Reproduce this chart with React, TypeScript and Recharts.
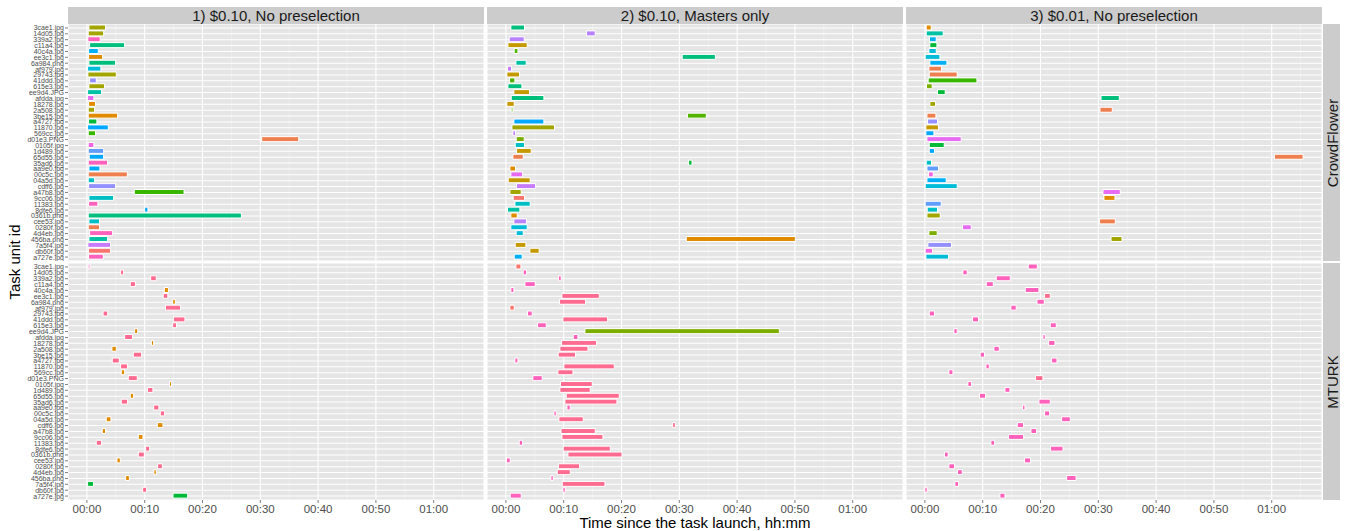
import React from 'react';
import { BarChart, Bar, XAxis, YAxis, CartesianGrid, Cell } from 'recharts';

// task unit ids, top to bottom (same order in every panel)
const taskIds = [
  '3cae1.jpg', '14d05.jpg', '339a2.jpg', 'c11a4.jpg', '40c4a.jpg', 'ee3c1.jpg', '6a984.png', 'af979.jpg',
  '29743.jpg', '41ddd.jpg', '615e3.jpg', 'ee9d4.JPG', 'afdda.jpg', '18278.jpg', '2a508.jpg', '3be15.jpg',
  'a4727.jpg', '11870.jpg', '569cc.jpg', 'd01e3.PNG', '0105f.jpg', '1d489.jpg', '65d55.jpg', '35ad6.jpg',
  'aa9e0.jpg', '00c5c.jpg', '04a5d.jpg', 'cdff6.jpg', 'a47b8.jpg', '9cc06.jpg', '11383.jpg', '8dfe6.jpg',
  '0361b.png', 'cee53.jpg', '0280f.jpg', '4d4eb.jpg', '456ba.png', '7a5f4.jpg', 'db60f.jpg', 'a727e.jpg',
];

const setups = ['1) $0.10, No preselection', '2) $0.10, Masters only', '3) $0.01, No preselection'];
const platforms = ['CrowdFlower', 'MTURK'];
const timeTicks = [0, 10, 20, 30, 40, 50, 60];
const minorTicks = [5, 15, 25, 35, 45, 55, 65];

// [start min, end min, worker group]
type Span = [number, number, string];

const cfNoPre10: Span[] = [
  [0.35, 3.23, 'olive'], [0.23, 2.9, 'olive'], [0.17, 2.3, 'pink'], [0.47, 6.53, 'emerald'],
  [0.29, 1.97, 'sky'], [0.29, 2.72, 'orange'], [0.35, 4.97, 'emerald'], [0.12, 2.42, 'cyan'],
  [0.17, 5.09, 'olive'], [0.47, 1.63, 'peri'], [0.35, 3.06, 'olive'], [0.12, 2.54, 'jade'],
  [0.12, 1.21, 'magenta'], [0.29, 1.5, 'orange'], [0.23, 1.33, 'olive'], [0.23, 5.31, 'orange'],
  [0.29, 1.73, 'green'], [0.12, 3.7, 'azure'], [0.23, 1.5, 'leaf'], [30.24, 36.65, 'coral'],
  [0.23, 1.21, 'orchid'], [0.23, 2.9, 'blue'], [0.4, 2.9, 'azure'], [0.23, 3.58, 'pink'],
  [0.35, 2.25, 'azure'], [0.23, 7.0, 'coral'], [0.23, 1.33, 'teal'], [0.29, 4.97, 'peri'],
  [8.2, 16.8, 'leaf'], [0.35, 4.62, 'teal'], [0.29, 1.9, 'pink'], [9.99, 10.56, 'azure'],
  [0.23, 26.73, 'emerald'], [0.35, 2.19, 'teal'], [0.23, 2.19, 'coral'], [0.47, 4.45, 'pink'],
  [0.35, 3.58, 'jade'], [0.17, 4.1, 'purple'], [0.29, 4.1, 'salmon'], [0.29, 2.84, 'pink'],
];

const mtNoPre10: Span[] = [
  [0.23, 0.52, 'pink'], [5.83, 6.35, 'rose'], [11.03, 12.0, 'rose'], [7.5, 8.4, 'rose'],
  [13.4, 14.1, 'orange'], [13.2, 14.0, 'rose'], [14.84, 15.3, 'orange'], [13.6, 16.2, 'rose'],
  [2.8, 3.6, 'rose'], [15.0, 16.96, 'rose'], [14.84, 15.5, 'rose'], [8.26, 8.78, 'orange'],
  [6.53, 7.9, 'rose'], [11.15, 11.55, 'orange'], [4.33, 5.09, 'orange'], [8.03, 9.47, 'rose'],
  [4.39, 5.6, 'rose'], [5.83, 7.04, 'rose'], [5.95, 6.53, 'orange'], [7.16, 8.72, 'rose'],
  [14.3, 14.66, 'orange'], [10.5, 11.42, 'rose'], [7.5, 8.08, 'orange'], [5.95, 7.04, 'rose'],
  [11.55, 12.46, 'rose'], [12.7, 13.45, 'rose'], [3.35, 4.16, 'orange'], [12.18, 13.16, 'orange'],
  [2.66, 3.23, 'orange'], [8.9, 9.7, 'orange'], [1.62, 2.54, 'rose'], [10.16, 10.85, 'rose'],
  [8.9, 9.93, 'rose'], [5.2, 5.78, 'orange'], [12.24, 13.05, 'rose'], [11.6, 12.0, 'orange'],
  [6.7, 7.34, 'orange'], [0.12, 1.16, 'green'], [9.64, 10.33, 'rose'], [14.9, 17.43, 'green'],
];

const cfMasters10: Span[] = [
  [0.86, 3.22, 'emerald'], [13.95, 15.45, 'violet'], [0.57, 3.17, 'violet'], [0.35, 3.69, 'gold'],
  [1.44, 2.08, 'grass'], [30.5, 36.24, 'emerald'], [1.73, 3.51, 'jade'], [0.28, 0.97, 'purple'],
  [0.17, 2.35, 'gold'], [0.63, 1.56, 'grass'], [0.35, 2.77, 'emerald'], [1.38, 4.08, 'gold'],
  [0.92, 6.57, 'emerald'], [0.17, 1.44, 'gold'], [0.92, 1.21, 'grass'], [31.4, 34.67, 'grass'],
  [1.38, 6.57, 'azure'], [1.04, 8.41, 'olive'], [1.21, 1.66, 'purple'], [1.78, 3.17, 'lime'],
  [1.61, 3.22, 'teal'], [1.84, 4.38, 'gold'], [1.21, 3.0, 'coral'], [31.6, 32.2, 'green'],
  [0.69, 1.66, 'orange'], [0.86, 2.88, 'magenta'], [0.4, 4.2, 'gold'], [1.84, 5.13, 'purple'],
  [0.69, 2.65, 'olive'], [1.26, 3.22, 'salmon'], [1.56, 4.2, 'teal'], [0.28, 2.42, 'jade'],
  [0.86, 1.96, 'orange'], [1.38, 3.56, 'violet'], [0.86, 3.69, 'cyan'], [1.78, 3.0, 'cyan'],
  [31.2, 50.07, 'orange'], [1.61, 3.46, 'gold'], [4.15, 5.76, 'gold'], [1.44, 2.82, 'sky'],
];

const mtMasters10: Span[] = [
  [1.73, 2.6, 'salmon'], [2.99, 3.57, 'pink'], [9.11, 9.57, 'pink'], [3.29, 5.07, 'pink'],
  [0.86, 1.38, 'pink'], [9.69, 16.15, 'rose'], [9.28, 13.78, 'rose'], [0.69, 1.44, 'salmon'],
  [3.74, 4.55, 'pink'], [9.87, 17.6, 'rose'], [5.47, 6.98, 'pink'], [13.67, 47.31, 'lime'],
  [11.65, 12.46, 'pink'], [9.63, 15.69, 'rose'], [9.34, 14.2, 'rose'], [9.05, 12.05, 'rose'],
  [1.56, 2.08, 'pink'], [10.04, 18.75, 'rose'], [9.0, 11.6, 'rose'], [4.67, 6.28, 'pink'],
  [9.45, 14.94, 'rose'], [9.34, 14.59, 'rose'], [10.44, 19.61, 'rose'], [10.21, 19.21, 'rose'],
  [10.56, 11.13, 'pink'], [8.31, 8.71, 'pink'], [9.17, 13.38, 'rose'], [28.84, 29.31, 'rose'],
  [9.52, 15.46, 'rose'], [9.69, 16.79, 'rose'], [2.3, 2.88, 'pink'], [9.92, 18.06, 'rose'],
  [10.73, 20.08, 'rose'], [0.11, 0.74, 'pink'], [9.11, 12.74, 'rose'], [8.88, 11.13, 'rose'],
  [7.79, 8.19, 'pink'], [9.75, 17.14, 'rose'], [9.87, 10.27, 'pink'], [0.75, 2.65, 'pink'],
];

const cfNoPre01: Span[] = [
  [0.23, 1.09, 'orange'], [0.23, 3.17, 'jade'], [0.8, 1.96, 'sky'], [0.86, 2.08, 'green'],
  [0.69, 1.96, 'cyan'], [0.05, 2.6, 'cyan'], [0.86, 3.81, 'sky'], [0.69, 2.88, 'coral'],
  [0.75, 5.59, 'coral'], [0.57, 9.0, 'leaf'], [0.28, 1.26, 'lime'], [2.18, 3.51, 'green'],
  [30.47, 33.63, 'emerald'], [0.86, 1.84, 'olive'], [30.29, 32.42, 'coral'], [0.35, 1.9, 'coral'],
  [0.46, 2.18, 'peri'], [0.17, 2.35, 'gold'], [0.17, 1.56, 'azure'], [0.35, 6.28, 'magenta'],
  [0.75, 3.34, 'green'], [0.75, 1.66, 'azure'], [60.46, 65.43, 'coral'], [0.23, 1.15, 'teal'],
  [0.35, 2.35, 'blue'], [0.63, 1.44, 'orchid'], [0.35, 3.69, 'sky'], [0.05, 5.59, 'cyan'],
  [30.81, 33.8, 'magenta'], [30.98, 32.88, 'orange'], [0.05, 2.82, 'blue'], [0.4, 2.18, 'teal'],
  [0.35, 2.65, 'olive'], [30.22, 32.94, 'coral'], [6.51, 8.01, 'magenta'], [0.69, 2.13, 'lime'],
  [32.2, 34.1, 'olive'], [0.52, 4.6, 'peri'], [0.05, 1.32, 'orchid'], [0.17, 4.09, 'cyan'],
];

const mtNoPre01: Span[] = [
  [17.88, 19.44, 'pink'], [6.57, 7.32, 'pink'], [12.34, 14.77, 'pink'], [10.62, 11.83, 'pink'],
  [17.36, 19.73, 'pink'], [20.7, 21.69, 'rose'], [19.39, 20.65, 'pink'], [14.88, 15.8, 'pink'],
  [0.75, 1.66, 'pink'], [8.24, 9.28, 'pink'], [21.69, 22.73, 'pink'], [5.02, 5.59, 'pink'],
  [20.42, 20.82, 'pink'], [21.4, 22.5, 'pink'], [11.94, 12.86, 'pink'], [9.57, 10.32, 'pink'],
  [21.92, 22.85, 'pink'], [10.56, 11.13, 'pink'], [4.15, 4.85, 'pink'], [19.15, 20.42, 'rose'],
  [7.44, 8.07, 'pink'], [13.85, 14.71, 'pink'], [9.45, 10.49, 'pink'], [19.73, 21.69, 'pink'],
  [16.9, 17.31, 'pink'], [20.7, 21.57, 'pink'], [23.65, 25.15, 'pink'], [15.98, 17.07, 'pink'],
  [18.35, 19.32, 'pink'], [14.47, 17.07, 'pink'], [11.42, 12.05, 'pink'], [21.74, 23.89, 'pink'],
  [3.39, 4.03, 'pink'], [17.24, 18.28, 'pink'], [4.15, 5.13, 'pink'], [5.65, 6.46, 'pink'],
  [24.52, 26.15, 'pink'], [5.19, 5.82, 'pink'], [0.0, 0.4, 'pink'], [12.98, 13.85, 'pink'],
];

const panelRows = [
  [cfNoPre10, cfMasters10, cfNoPre01],
  [mtNoPre10, mtMasters10, mtNoPre01],
];

const workerColors: Record<string, string> = {
  olive: '#A3A500', gold: '#C49A00', pink: '#FF62BC', rose: '#FF6C91', green: '#00BA38',
  emerald: '#00BF7D', jade: '#00C1A3', teal: '#00BFC4', cyan: '#00BCD8', sky: '#00B0F6',
  azure: '#00A9FF', blue: '#619CFF', peri: '#9590FF', violet: '#B983FF', purple: '#C77CFF',
  magenta: '#E76BF3', orchid: '#F564E3', salmon: '#F8766D', coral: '#F07F4F', orange: '#E08B00',
  lime: '#7CAE00', leaf: '#39B600', grass: '#53B400',
};

const PANEL_W = 416;
const PANEL_H = 237;
const colLeft = [68, 487, 906];
const rowTop = [24, 263];
const Y_AXIS_W = 60;
const X_AXIS_H = 22;

const fmtTime = (v: number) =>
  `${String(Math.floor(v / 60)).padStart(2, '0')}:${String(v % 60).padStart(2, '0')}`;

const Panel = ({ spans, showY, showX }: { spans: Span[]; showY: boolean; showX: boolean }) => {
  const data = taskIds.map((id, i) => ({ id, span: [spans[i][0], spans[i][1]], worker: spans[i][2] }));
  return (
    <BarChart
      layout='vertical'
      width={PANEL_W + (showY ? Y_AXIS_W : 0)}
      height={PANEL_H + (showX ? X_AXIS_H : 0)}
      data={data}
      margin={{ top: 0, right: 0, bottom: 0, left: 0 }}
      barSize={5}
    >
      {/* minor grid first, then major white grid */}
      <CartesianGrid fill='#E5E5E5' stroke='#F2F2F2' strokeWidth={0.6} horizontal={false} verticalValues={minorTicks} />
      <CartesianGrid stroke='#FFFFFF' strokeWidth={1.1} />
      <XAxis
        type='number'
        domain={[-3.27, 68.7]}
        ticks={timeTicks}
        tickFormatter={fmtTime}
        hide={!showX}
        height={X_AXIS_H}
        axisLine={false}
        tickSize={3}
        tickMargin={2}
        tickLine={{ stroke: '#7F7F7F' }}
        tick={{ fontSize: 11.5, fill: '#4D4D4D' }}
        allowDataOverflow
      />
      <YAxis
        type='category'
        dataKey='id'
        hide={!showY}
        width={Y_AXIS_W}
        interval={0}
        padding={{ top: 1, bottom: 1 }}
        axisLine={false}
        tickSize={3}
        tickMargin={1}
        tickLine={{ stroke: '#7F7F7F' }}
        tick={{ fontSize: 7, fill: '#4D4D4D' }}
      />
      <Bar dataKey='span' isAnimationActive={false} stroke='#FFFFFF' strokeWidth={1}>
        {data.map((d, i) => (
          <Cell key={i} fill={workerColors[d.worker]} />
        ))}
      </Bar>
    </BarChart>
  );
};

const App = () => {
  return (
    <div
      style={{
        position: 'absolute', left: 0, top: 0, width: 1346, height: 531, background: '#fff',
        fontFamily: '"Liberation Sans", Arial, sans-serif',
      }}
    >
      {setups.map((s, c) => (
        <div
          key={s}
          style={{
            position: 'absolute', left: colLeft[c], top: 7, width: PANEL_W, height: 17,
            background: '#CCCCCC', color: '#1A1A1A', fontSize: 15, lineHeight: '17px', textAlign: 'center',
          }}
        >
          {s}
        </div>
      ))}
      {platforms.map((p, r) => (
        <div
          key={p}
          style={{
            position: 'absolute', left: 1323, top: rowTop[r], width: 17, height: PANEL_H, background: '#CCCCCC',
          }}
        >
          <div
            style={{
              position: 'absolute', left: 8.5, top: PANEL_H / 2, transform: 'translate(-50%, -50%) rotate(-90deg)',
              whiteSpace: 'nowrap', fontSize: 15, lineHeight: '17px', color: '#1A1A1A',
            }}
          >
            {p}
          </div>
        </div>
      ))}
      {panelRows.map((row, r) =>
        row.map((spans, c) => (
          <div
            key={`${r}-${c}`}
            style={{
              position: 'absolute',
              left: colLeft[c] - (c === 0 ? Y_AXIS_W : 0),
              top: rowTop[r],
            }}
          >
            <Panel spans={spans} showY={c === 0} showX={r === 1} />
          </div>
        ))
      )}
      <div
        style={{
          position: 'absolute', left: 14, top: 262, transform: 'translate(-50%, -50%) rotate(-90deg)',
          whiteSpace: 'nowrap', fontSize: 15, color: '#000',
        }}
      >
        Task unit id
      </div>
      <div
        style={{
          position: 'absolute', left: 695, top: 522, transform: 'translate(-50%, -50%)',
          whiteSpace: 'nowrap', fontSize: 15, color: '#000',
        }}
      >
        Time since the task launch, hh:mm
      </div>
    </div>
  );
};

export default App;
